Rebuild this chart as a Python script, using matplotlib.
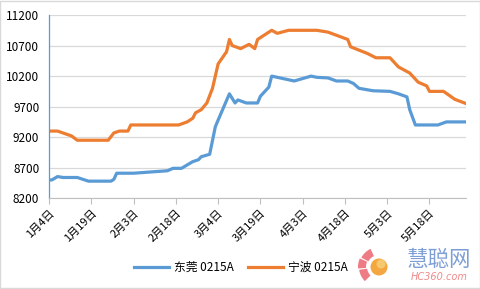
import numpy as np
import pandas as pd
import matplotlib
matplotlib.use('Agg')
import matplotlib.pyplot as plt
from matplotlib.patches import Rectangle, Circle, Wedge

plt.rcParams['font.family'] = ['Noto Sans CJK SC', 'DejaVu Sans']

# 东莞 0215A
dg_dates = ['01-04', '01-05', '01-07', '01-09', '01-14', '01-18', '01-26', '01-27', '01-28',
            '02-03', '02-15', '02-17', '02-20', '02-24', '02-26', '02-27', '03-01', '03-03',
            '03-04', '03-08', '03-10', '03-11', '03-14', '03-18', '03-19', '03-22', '03-23',
            '03-31', '04-06', '04-08', '04-12', '04-15', '04-19', '04-21', '04-23', '04-28',
            '05-04', '05-07', '05-10', '05-11', '05-13', '05-21', '05-24', '05-31']
dg_values = [8500, 8500, 8555, 8540, 8540, 8480, 8480, 8510, 8610,
             8610, 8650, 8690, 8690, 8800, 8830, 8880, 8920, 9370,
             9480, 9910, 9760, 9810, 9760, 9760, 9870, 10020, 10200,
             10120, 10200, 10180, 10170, 10120, 10120, 10080, 10000, 9960,
             9950, 9910, 9860, 9650, 9400, 9400, 9450, 9450]

# 宁波 0215A
nb_dates = ['01-04', '01-07', '01-12', '01-14', '01-25', '01-27', '01-29', '02-01', '02-02',
            '02-19', '02-22', '02-24', '02-25', '02-27', '02-29', '03-02', '03-04', '03-07',
            '03-08', '03-09', '03-12', '03-15', '03-17', '03-18', '03-23', '03-25', '03-29',
            '04-08', '04-12', '04-19', '04-20', '04-26', '04-29', '05-04', '05-07', '05-11',
            '05-14', '05-17', '05-18', '05-23', '05-27', '05-31']
nb_values = [9300, 9300, 9220, 9150, 9150, 9270, 9300, 9300, 9400,
             9400, 9450, 9510, 9600, 9650, 9760, 10000, 10400, 10600,
             10800, 10700, 10650, 10720, 10650, 10800, 10950, 10900, 10950,
             10950, 10920, 10800, 10680, 10570, 10500, 10500, 10350, 10250,
             10100, 10040, 9950, 9950, 9820, 9750]

yticks = [8200, 8700, 9200, 9700, 10200, 10700, 11200]

def to_dates(lst):
    return pd.to_datetime(['2016-' + s for s in lst])

start = pd.Timestamp('2016-01-04')
end = pd.Timestamp('2016-05-31')
xticks = [start + pd.Timedelta(days=15 * k) for k in range(10)]

fig = plt.figure(figsize=(4.81, 2.89), dpi=100)
ax = fig.add_axes([0.102, 0.314, 0.867, 0.634])

ax.plot(to_dates(dg_dates), dg_values, color='#5B9BD5', lw=2.3, label='东莞 0215A',
        solid_joinstyle='round')
ax.plot(to_dates(nb_dates), nb_values, color='#ED7D31', lw=2.3, label='宁波 0215A',
        solid_joinstyle='round')

ax.set_ylim(8200, 11200)
ax.set_yticks(yticks)
ax.set_xlim(start, end)
ax.set_xticks(xticks)
ax.set_xticklabels([f'{d.month}月{d.day}日' for d in xticks], rotation=45,
                   ha='right', va='top', rotation_mode='anchor')
ax.tick_params(axis='x', length=4, color='#BFBFBF', labelsize=8, pad=3)
ax.tick_params(axis='y', length=0, labelsize=8.5, pad=7)
ax.grid(axis='y', color='#D9D9D9', lw=0.9)
ax.set_axisbelow(True)
for s in ['top', 'right']:
    ax.spines[s].set_visible(False)
ax.spines['bottom'].set_color('#BFBFBF')
ax.spines['left'].set_color('#5B9BD5')
ax.spines['left'].set_linewidth(0.9)

fig.legend(loc='center', bbox_to_anchor=(0.5, 0.075), ncol=2, frameon=False,
           fontsize=8.5, handlelength=3, columnspacing=1.2, handletextpad=0.4)

# watermark (pixel coordinates overlay)
wm = fig.add_axes([0, 0, 1, 1], facecolor='none')
wm.set_xlim(0, 481)
wm.set_ylim(289, 0)
wm.axis('off')
for t1, t2, r in [(135, 172, 20), (176, 204, 21), (208, 245, 20)]:
    wm.add_patch(Wedge((379, 267), r, t1, t2, width=8, facecolor='#E8505B',
                       edgecolor='none', alpha=0.75))
wm.add_patch(Circle((379, 267), 8.5, facecolor='#F4A640', edgecolor='none'))
wm.add_patch(Circle((381, 264), 4.5, facecolor='#F9D27A', edgecolor='none', alpha=0.8))
wm.text(439, 260, '慧聪网', fontsize=15.5, color='#7E9FD6', ha='center', va='center',
        style='italic')
wm.text(439, 277, 'HC360.com', fontsize=7, color='#F08A8A', ha='center', va='center',
        style='italic', family='DejaVu Sans')

fig.patches.append(Rectangle((0.001, 0.002), 0.997, 0.995, transform=fig.transFigure,
                             fill=False, edgecolor='#D9D9D9', lw=1))

fig.savefig('out.png', dpi=100)
